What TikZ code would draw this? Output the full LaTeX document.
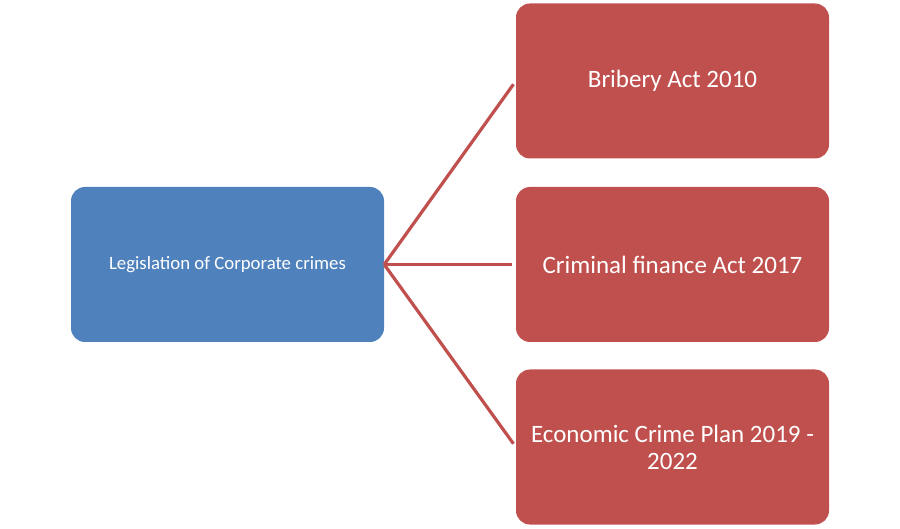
\documentclass[tikz,border=0pt]{standalone}
\usepackage{fontspec}
\setmainfont{Carlito}
\usetikzlibrary{positioning}
\definecolor{hubblue}{HTML}{4F81BD}
\definecolor{actred}{HTML}{C0504D}
\tikzset{
  box/.style={rounded corners=14pt, minimum width=313pt, minimum height=155pt,
    text=white, align=center, inner sep=0pt},
  hubbox/.style={box, fill=hubblue, font=\fontsize{18.8}{22}\selectfont},
  actbox/.style={box, fill=actred, font=\fontsize{25}{27}\selectfont},
  link/.style={actred, line width=3.2pt, shorten >=4pt}
}
\begin{document}
\begin{tikzpicture}[x=1pt, y=-1pt, line cap=butt, line join=miter]
    \useasboundingbox (0,0) rectangle (900,529);

    \node[hubbox] (hub) at (227.5,264.5) {Legislation of Corporate crimes};

    \node[actbox] (bribery)  at (672.5,81)    {Bribery Act 2010};
    \node[actbox] (finance)  at (672.5,264.5) {Criminal finance Act 2017};
    \node[actbox] (economic) at (672.5,447)   {Economic Crime Plan 2019 -\\2022};

    \draw[link] (hub.east) -- (bribery.west);
    \draw[link] (hub.east) -- (finance.west);
    \draw[link] (hub.east) -- (economic.west);
\end{tikzpicture}
\end{document}
